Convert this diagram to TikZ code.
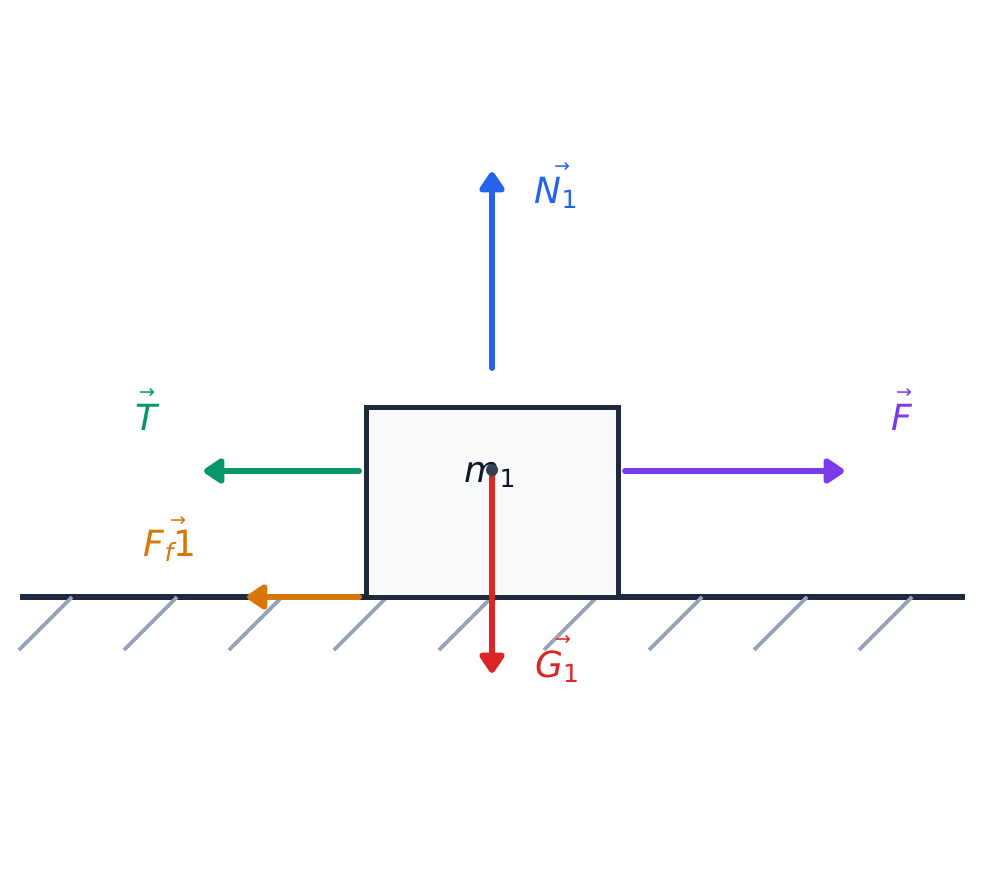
\documentclass[tikz,border=0pt]{standalone}
\usepackage{fontspec}
\setmainfont{DejaVu Sans}
\usetikzlibrary{arrows.meta}
\definecolor{cdark}{HTML}{1E293B}
\definecolor{chatch}{HTML}{94A3B8}
\definecolor{cfill}{HTML}{F8FAFC}
\definecolor{cblue}{HTML}{2563EB}
\definecolor{cgreen}{HTML}{059669}
\definecolor{cpurple}{HTML}{7C3AED}
\definecolor{corange}{HTML}{D97706}
\definecolor{cred}{HTML}{DC2626}
\definecolor{cdot}{HTML}{334155}
\definecolor{ctext}{HTML}{0F172A}
\newcommand{\lsub}[1]{\raisebox{-5pt}{\fontsize{25}{25}\selectfont #1}}
\begin{document}
\begin{tikzpicture}[x=1pt,y=-1pt,
  force/.style={line width=6pt, line cap=round, -{Triangle[length=23pt,width=29pt,round]}},
  hatch/.style={chatch, line width=3.8pt},
  lbl/.style={anchor=base, inner sep=0pt, font=\fontsize{36}{36}\selectfont},
  vecarrow/.style={inner sep=0pt, font=\fontsize{19}{19}\selectfont}]
\useasboundingbox (0,0) rectangle (985,880);
% ground
\draw[cdark, line width=6.5pt] (20,597) coordinate (g1) -- (965,597) coordinate (g2);
\foreach \x in {72,177,282,387,492,597,702,807,912}
  \draw[hatch] (\x,597) -- ++(-53,53);
% block
\node[draw=cdark, fill=cfill, line width=5pt, minimum width=252pt, minimum height=190pt, inner sep=0pt] (block) at (492,502) {};
\node[lbl, text=ctext] (mlabel) at (490,482) {\itshape m\lsub{\upshape 1}};
% coordinates
\coordinate (cg) at (492,470);
\coordinate (nstart) at (492,368);
\coordinate (ntip) at (492,172);
\coordinate (tstart) at (359,471);
\coordinate (ttip) at (204,471);
\coordinate (fstart) at (625,471);
\coordinate (ftip) at (844,471);
\coordinate (ffstart) at (359,597);
\coordinate (fftip) at (247,597);
\coordinate (gtip) at (492,673);
% forces
\draw[force, cblue] (nstart) -- (ntip);
\draw[force, cgreen] (tstart) -- (ttip);
\draw[force, cpurple] (fstart) -- (ftip);
\draw[force, corange] (ffstart) -- (fftip);
\draw[force, cred] (cg) -- (gtip);
\fill[cdot] (cg) circle (6pt);
% labels
\node[lbl, text=cblue] (nlabel) at (556,203) {\itshape N\lsub{\upshape 1}};
\node[vecarrow, text=cblue] (narr) at (562,167) {→};
\node[lbl, text=cgreen] (tlabel) at (146,430) {\itshape T};
\node[vecarrow, text=cgreen] (tarr) at (147,393) {→};
\node[lbl, text=cpurple] (flabel) at (902,430) {\itshape F};
\node[vecarrow, text=cpurple] (farr) at (904,393) {→};
\node[lbl, text=corange] (fflabel) at (170,556) {\itshape F\lsub{f}\upshape 1};
\node[vecarrow, text=corange] (ffarr) at (178,521) {→};
\node[lbl, text=cred] (glabel) at (557,677) {\itshape G\lsub{\upshape 1}};
\node[vecarrow, text=cred] (garr) at (563,640) {→};
\end{tikzpicture}
\end{document}
